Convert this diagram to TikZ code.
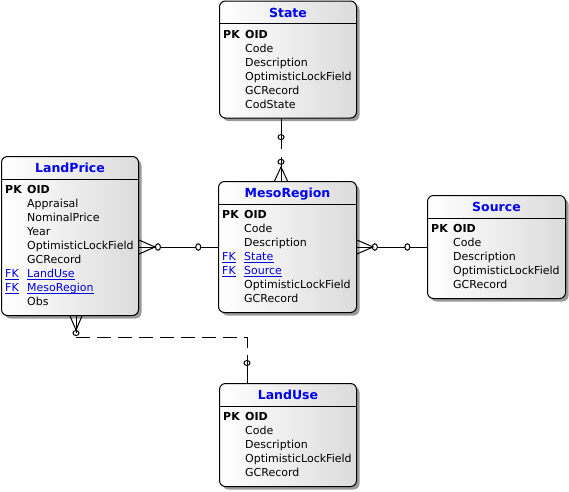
\documentclass[tikz,border=0pt]{standalone}
\usepackage{fontspec}
\setmainfont{DejaVu Sans}
\usetikzlibrary{calc,shadows,shapes.geometric}
\definecolor{titleblue}{RGB}{0,0,240}
\definecolor{linkblue}{RGB}{0,0,220}

\tikzset{
  entity/.style={draw=black, line width=1pt, rounded corners=6pt,
    left color=white, right color=black!14, anchor=north west, inner sep=0pt,
    drop shadow={shadow xshift=3pt, shadow yshift=-3pt, fill=black!40, opacity=1}},
  sepline/.style={line width=1pt},
  etitle/.style={anchor=base, inner sep=0pt, text=titleblue,
    font=\fontsize{12.5}{14}\selectfont\bfseries},
  keyf/.style={anchor=base west, inner sep=0pt, font=\fontsize{11}{13}\selectfont\bfseries},
  field/.style={anchor=base west, inner sep=0pt, font=\fontsize{11}{13}\selectfont},
  fkf/.style={field, text=linkblue},
  linkline/.style={draw=linkblue, line width=0.9pt},
  rel/.style={line width=1pt, black},
  reldash/.style={rel, dash pattern=on 14pt off 7pt},
  hring/.style={draw, line width=1pt, fill=white, ellipse, inner sep=0pt,
    minimum width=5pt, minimum height=6.5pt},
  vring/.style={draw, line width=1pt, ellipse, inner sep=0pt,
    minimum width=6pt, minimum height=5pt},
}

\begin{document}
\begin{tikzpicture}[x=1pt,y=-1pt]
\useasboundingbox (0,0) rectangle (569,491);

% ---------- entities ----------
\node[entity, minimum width=137pt, minimum height=117pt] (state) at (219,0.5) {};
\node[entity, minimum width=137pt, minimum height=159pt] (lp)    at (1,156) {};
\node[entity, minimum width=138pt, minimum height=131pt] (meso)  at (218,181) {};
\node[entity, minimum width=138pt, minimum height=103pt] (src)   at (427,195) {};
\node[entity, minimum width=137pt, minimum height=103pt] (use)   at (219,383) {};

\foreach \e in {state,lp,meso,src,use}
  \draw[sepline] ($(\e.north west)+(0,23)$) -- ($(\e.north east)+(0,23)$);

% ---------- State ----------
\node[etitle] (state-t) at ($(state.north)+(0,16.5)$) {State};
\node[keyf] (state-pk) at ($(state.north west)+(4,37.5)$) {PK};
\node[keyf] (state-k)  at ($(state.north west)+(26,37.5)$) {OID};
\foreach \f [count=\i] in {Code,Description,OptimisticLockField,GCRecord,CodState}
  \node[field] (state-f\i) at ($(state.north west)+(26,37.5+14*\i)$) {\f};

% ---------- LandPrice ----------
\node[etitle] (lp-t) at ($(lp.north)+(0,16.5)$) {LandPrice};
\node[keyf] (lp-pk) at ($(lp.north west)+(4,37.5)$) {PK};
\node[keyf] (lp-k)  at ($(lp.north west)+(26,37.5)$) {OID};
\foreach \f [count=\i] in {Appraisal,NominalPrice,Year,OptimisticLockField,GCRecord}
  \node[field] (lp-f\i) at ($(lp.north west)+(26,37.5+14*\i)$) {\f};
\node[fkf] (lp-fk1) at ($(lp.north west)+(4,37.5+14*6)$) {FK};
\node[fkf] (lp-f6)  at ($(lp.north west)+(26,37.5+14*6)$) {LandUse};
\node[fkf] (lp-fk2) at ($(lp.north west)+(4,37.5+14*7)$) {FK};
\node[fkf] (lp-f7)  at ($(lp.north west)+(26,37.5+14*7)$) {MesoRegion};
\node[field] (lp-f8) at ($(lp.north west)+(26,37.5+14*8)$) {Obs};

% ---------- MesoRegion ----------
\node[etitle] (meso-t) at ($(meso.north)+(0,16.5)$) {MesoRegion};
\node[keyf] (meso-pk) at ($(meso.north west)+(4,37.5)$) {PK};
\node[keyf] (meso-k)  at ($(meso.north west)+(26,37.5)$) {OID};
\node[field] (meso-f1) at ($(meso.north west)+(26,37.5+14)$) {Code};
\node[field] (meso-f2) at ($(meso.north west)+(26,37.5+28)$) {Description};
\node[fkf] (meso-fk1) at ($(meso.north west)+(4,37.5+42)$) {FK};
\node[fkf] (meso-f3)  at ($(meso.north west)+(26,37.5+42)$) {State};
\node[fkf] (meso-fk2) at ($(meso.north west)+(4,37.5+56)$) {FK};
\node[fkf] (meso-f4)  at ($(meso.north west)+(26,37.5+56)$) {Source};
\node[field] (meso-f5) at ($(meso.north west)+(26,37.5+70)$) {OptimisticLockField};
\node[field] (meso-f6) at ($(meso.north west)+(26,37.5+84)$) {GCRecord};

% underlines of the foreign-key links
\foreach \n in {lp-fk1,lp-f6,lp-fk2,lp-f7,meso-fk1,meso-f3,meso-fk2,meso-f4}
  \draw[linkline] ($(\n.base west)+(0,2)$) -- ($(\n.base east)+(0,2)$);

% ---------- Source ----------
\node[etitle] (src-t) at ($(src.north)+(0,16.5)$) {Source};
\node[keyf] (src-pk) at ($(src.north west)+(4,37.5)$) {PK};
\node[keyf] (src-k)  at ($(src.north west)+(26,37.5)$) {OID};
\foreach \f [count=\i] in {Code,Description,OptimisticLockField,GCRecord}
  \node[field] (src-f\i) at ($(src.north west)+(26,37.5+14*\i)$) {\f};

% ---------- LandUse ----------
\node[etitle] (use-t) at ($(use.north)+(0,16.5)$) {LandUse};
\node[keyf] (use-pk) at ($(use.north west)+(4,37.5)$) {PK};
\node[keyf] (use-k)  at ($(use.north west)+(26,37.5)$) {OID};
\foreach \f [count=\i] in {Code,Description,OptimisticLockField,GCRecord}
  \node[field] (use-f\i) at ($(use.north west)+(26,37.5+14*\i)$) {\f};

% ---------- relationships ----------
\coordinate (smx) at (281,0);
\coordinate (hy)  at (0,247);
\coordinate (lux) at (76,0);
\coordinate (uux) at (247,0);
\coordinate (dy)  at (0,337);

% State (one) -- MesoRegion (many)
\draw[rel] (state.south -| smx) -- ++(0,30) node[vring, pos=0.62] (sm-r1) {};
\draw[rel] (meso.north -| smx) -- ++(0,-24) node[vring, pos=0.8] (sm-r2) {};
\draw[rel] ($(meso.north -| smx)+(-6.5,0)$) -- ($(meso.north -| smx)+(0,-14)$)
  -- ($(meso.north -| smx)+(6.5,0)$);

% LandPrice (many) -- MesoRegion (one)
\draw[rel] (lp.east |- hy) -- (meso.west |- hy)
  node[hring, pos=0.24] (lm-r1) {} node[hring, pos=0.75] (lm-r2) {};
\draw[rel] ($(lp.east |- hy)+(0,-7)$) -- ($(lp.east |- hy)+(16,0)$)
  -- ($(lp.east |- hy)+(0,7)$);

% MesoRegion (many) -- Source (one)
\draw[rel] (meso.east |- hy) -- (src.west |- hy)
  node[hring, pos=0.255] (ms-r1) {} node[hring, pos=0.72] (ms-r2) {};
\draw[rel] ($(meso.east |- hy)+(0,-7)$) -- ($(meso.east |- hy)+(16,0)$)
  -- ($(meso.east |- hy)+(0,7)$);

% LandPrice (many) -- LandUse (one), non-identifying
\draw[rel] (lp.south -| lux) -- ($(lux |- dy)+(0,-4)$) node[vring, pos=1] (lu-r1) {};
\draw[rel] ($(lp.south -| lux)+(-6,0)$) -- ($(lp.south -| lux)+(0,14)$)
  -- ($(lp.south -| lux)+(6,0)$);
\draw[reldash] (lux |- dy) -- (uux |- dy) -- ($(uux |- dy)+(0,21)$);
\draw[rel] ($(uux |- dy)+(0,21)$) -- (use.north -| uux)
  node[vring, pos=0.2] (lu-r2) {};

\end{tikzpicture}
\end{document}
